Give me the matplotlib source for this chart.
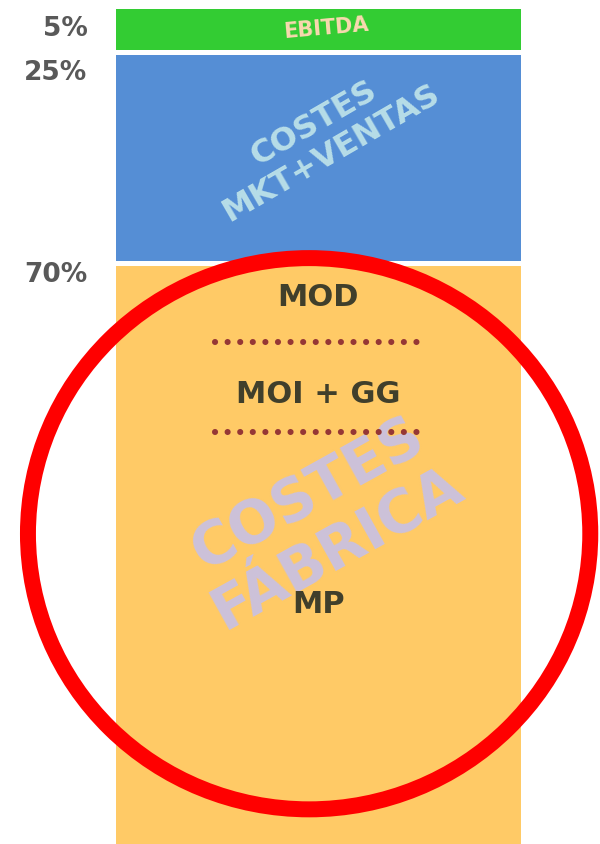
import matplotlib
matplotlib.use("Agg")
import matplotlib.pyplot as plt
from matplotlib.patches import Ellipse

# stacked shares, top to bottom
segments = ["EBITDA", "COSTES\nMKT+VENTAS", "COSTES\nFÁBRICA"]
shares = [5, 25, 70]
share_labels = ["5%", "25%", "70%"]
colors = ["#33CC33", "#558ED5", "#FFCA66"]
text_colors = ["#FAD9B0", "#B7DDE8", "#CCC1DA"]

# cost items inside the factory block
fab_items = ["MOD", "MOI + GG", "MP"]

gap = 0.6
FONT = ["DejaVu Sans"]

fig = plt.figure(figsize=(6, 8.45), dpi=100)
ax = fig.add_axes([0, 0, 1, 1])

bottoms = []
b = 0
for s in shares:
    bottoms.append(b)
    b += s + gap

ax.bar(0, shares, bottom=bottoms, width=1, color=colors, zorder=1)

# percentage labels left of the bar
for lab, bt, off in zip(share_labels, bottoms, [2.3, 2.1, 0.9]):
    ax.text(-0.57, bt + off, lab, ha="right", va="center", fontsize=19,
            fontweight="bold", color="#595959", family=FONT)

# segment names
ax.text(0.02, bottoms[0] + 2.2, segments[0], ha="center", va="center",
        rotation=5, rotation_mode="anchor", fontsize=15, fontweight="bold",
        color=text_colors[0], family=FONT, zorder=2)
ax.text(0.01, bottoms[1] + 10.0, segments[1], ha="center", va="center",
        multialignment="center", rotation=30, rotation_mode="anchor",
        fontsize=23, fontweight="bold", color=text_colors[1], family=FONT,
        linespacing=1.15, zorder=2)
ax.text(0.01, bottoms[2] + 30.8, segments[2], ha="center", va="center",
        multialignment="center", rotation=29, rotation_mode="anchor",
        fontsize=42, fontweight="bold", color=text_colors[2], family=FONT,
        linespacing=1.12, zorder=2)

# factory cost breakdown
item_y = [bottoms[2] + 3.7, bottoms[2] + 15.4, bottoms[2] + 40.9]
for item, y in zip(fab_items, item_y):
    ax.text(0, y, item, ha="center", va="center", fontsize=22,
            fontweight="bold", color="#403F2B", family=FONT, zorder=3)

for y in [bottoms[2] + 9.2, bottoms[2] + 20.1]:
    ax.plot([-0.256, 0.243], [y, y], color="#953735", lw=4.4,
            linestyle=(0, (0.01, 2.05)), dash_capstyle="round", zorder=3)

# red highlight circle
ax.add_patch(Ellipse((-0.023, bottoms[2] + 32.4), 1.388, 66.8, fill=False,
                     edgecolor="#FF0000", lw=11.5, zorder=4))

ax.set_xlim(-0.786, 0.695)
ax.set_ylim(bottoms[2] + shares[2], -1.2)
ax.axis("off")

fig.savefig("out.png", dpi=100)
